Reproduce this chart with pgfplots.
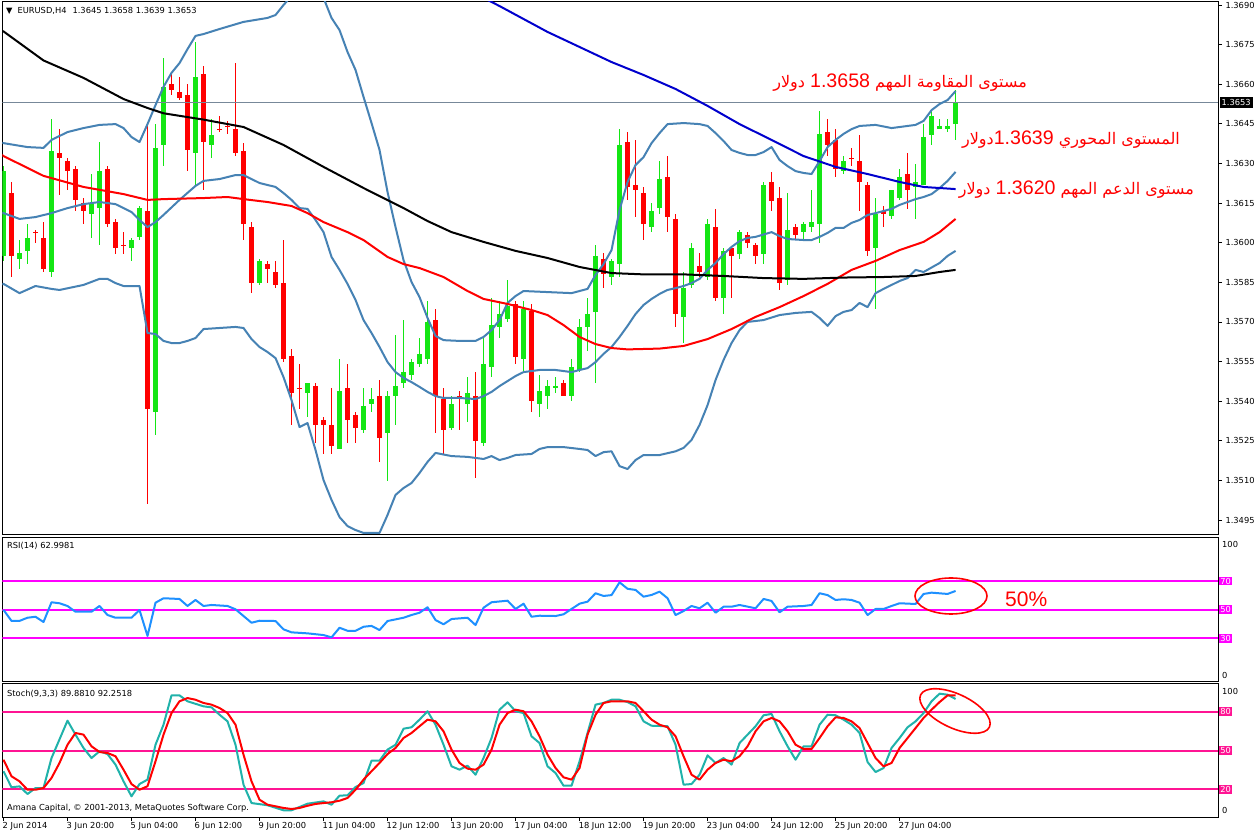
\documentclass[border=0pt]{standalone}
\usepackage{fontspec}
\usepackage{pgfplots}
\usepackage{pgfplotstable}
\pgfplotsset{compat=1.18}
\setmainfont{DejaVu Sans}
\newfontfamily\arabicfont[Script=Arabic]{DejaVu Sans}
\newfontfamily\arialfont{Liberation Sans}
\TeXXeTstate=1
\newcommand{\sm}{\fontsize{8.3}{10}\selectfont}
\definecolor{bull}{RGB}{20,230,20}
\definecolor{bear}{RGB}{255,0,0}
\definecolor{bband}{RGB}{70,130,180}
\definecolor{maT}{RGB}{0,0,205}
\definecolor{pline}{RGB}{119,136,153}
\definecolor{rsiline}{RGB}{30,144,255}
\definecolor{rsilevel}{RGB}{255,0,255}
\definecolor{stk}{RGB}{32,178,170}
\definecolor{stlevel}{RGB}{255,20,147}

\pgfplotstableread{
i o h l c
0 1.3595 1.3629 1.3593 1.3627
2 1.3594 1.3601 1.3590 1.3596
3 1.3597 1.3607 1.3592 1.3602
6 1.3589 1.3647 1.3587 1.3635
11 1.3611 1.3626 1.3602 1.3615
12 1.3613 1.3638 1.3599 1.3627
16 1.3598 1.3602 1.3593 1.3601
17 1.3602 1.3614 1.3601 1.3613
19 1.3536 1.3645 1.3527 1.3636
20 1.3637 1.3670 1.3629 1.3659
24 1.3634 1.3676 1.3621 1.3663
26 1.3637 1.3647 1.3632 1.3641
32 1.3585 1.3594 1.3584 1.3593
38 1.3543 1.3547 1.3534 1.3547
42 1.3522 1.3556 1.3522 1.3544
45 1.3529 1.3545 1.3528 1.3538
46 1.3539 1.3545 1.3536 1.3541
48 1.3528 1.3544 1.3510 1.3542
49 1.3542 1.3565 1.3531 1.3546
50 1.3547 1.3571 1.3545 1.3551
51 1.3550 1.3556 1.3548 1.3555
52 1.3554 1.3564 1.3553 1.3558
53 1.3556 1.3578 1.3554 1.3570
56 1.3530 1.3542 1.3529 1.3539
58 1.3539 1.3549 1.3532 1.3543
60 1.3524 1.3564 1.3523 1.3554
61 1.3553 1.3579 1.3549 1.3569
62 1.3568 1.3578 1.3564 1.3573
63 1.3571 1.3586 1.3570 1.3576
65 1.3556 1.3578 1.3551 1.3575
67 1.3539 1.3550 1.3534 1.3544
68 1.3542 1.3548 1.3537 1.3546
69 1.3545 1.3549 1.3543 1.3546
71 1.3542 1.3556 1.3540 1.3553
72 1.3552 1.3571 1.3551 1.3568
73 1.3568 1.3579 1.3559 1.3573
74 1.3574 1.3599 1.3547 1.3595
76 1.3587 1.3594 1.3584 1.3593
77 1.3592 1.3643 1.3587 1.3637
81 1.3606 1.3615 1.3604 1.3612
82 1.3613 1.3631 1.3611 1.3624
85 1.3572 1.3589 1.3562 1.3583
86 1.3584 1.3600 1.3583 1.3598
88 1.3587 1.3609 1.3586 1.3607
90 1.3579 1.3598 1.3573 1.3597
92 1.3596 1.3605 1.3594 1.3604
95 1.3596 1.3623 1.3592 1.3622
98 1.3586 1.3619 1.3584 1.3605
100 1.3604 1.3608 1.3601 1.3607
101 1.3606 1.3620 1.3604 1.3608
102 1.3607 1.3650 1.3600 1.3641
105 1.3627 1.3633 1.3626 1.3631
109 1.3598 1.3617 1.3575 1.3611
111 1.3610 1.3620 1.3609 1.3620
112 1.3617 1.3628 1.3616 1.3625
114 1.3621 1.3630 1.3609 1.3623
115 1.3622 1.3645 1.3622 1.3640
116 1.3641 1.3650 1.3637 1.3648
117 1.3643 1.3647 1.3643 1.3644
118 1.3643 1.3647 1.3642 1.3644
119 1.3645 1.3658 1.3639 1.3653
}\bulltab

\pgfplotstableread{
i o h l c
1 1.3619 1.3623 1.3587 1.3595
4 1.3604 1.3605 1.3600 1.3604
5 1.3602 1.3608 1.3589 1.3590
7 1.3634 1.3643 1.3618 1.3632
8 1.3631 1.3632 1.3620 1.3627
9 1.3628 1.3629 1.3612 1.3616
10 1.3615 1.3617 1.3607 1.3612
13 1.3628 1.3629 1.3606 1.3607
14 1.3608 1.3609 1.3596 1.3598
15 1.3599 1.3604 1.3596 1.3599
18 1.3612 1.3645 1.3501 1.3537
21 1.3660 1.3664 1.3656 1.3658
22 1.3657 1.3663 1.3654 1.3655
23 1.3656 1.3660 1.3627 1.3635
25 1.3664 1.3667 1.3620 1.3638
27 1.3643 1.3648 1.3642 1.3643
28 1.3644 1.3646 1.3641 1.3644
29 1.3643 1.3668 1.3633 1.3634
30 1.3635 1.3638 1.3601 1.3607
31 1.3606 1.3608 1.3581 1.3585
33 1.3592 1.3593 1.3585 1.3590
34 1.3589 1.3593 1.3583 1.3584
35 1.3585 1.3601 1.3555 1.3556
36 1.3557 1.3560 1.3531 1.3543
37 1.3545 1.3554 1.3537 1.3545
39 1.3546 1.3547 1.3524 1.3531
40 1.3533 1.3534 1.3520 1.3531
41 1.3531 1.3545 1.3520 1.3523
43 1.3545 1.3554 1.3524 1.3533
44 1.3535 1.3536 1.3524 1.3530
47 1.3542 1.3548 1.3517 1.3526
54 1.3571 1.3575 1.3528 1.3542
55 1.3541 1.3545 1.3520 1.3529
57 1.3542 1.3544 1.3529 1.3541
59 1.3542 1.3551 1.3511 1.3525
64 1.3577 1.3578 1.3554 1.3557
66 1.3574 1.3577 1.3536 1.3540
70 1.3547 1.3548 1.3542 1.3542
75 1.3594 1.3596 1.3583 1.3588
78 1.3638 1.3642 1.3616 1.3621
79 1.3622 1.3639 1.3610 1.3620
80 1.3619 1.3621 1.3601 1.3607
83 1.3625 1.3633 1.3604 1.3610
84 1.3609 1.3611 1.3568 1.3573
87 1.3591 1.3596 1.3587 1.3589
89 1.3606 1.3613 1.3578 1.3579
91 1.3598 1.3599 1.3579 1.3595
93 1.3603 1.3604 1.3598 1.3600
94 1.3599 1.3600 1.3592 1.3595
96 1.3623 1.3627 1.3612 1.3616
97 1.3617 1.3621 1.3582 1.3585
99 1.3606 1.3607 1.3601 1.3603
103 1.3642 1.3647 1.3633 1.3637
104 1.3639 1.3643 1.3625 1.3628
106 1.3632 1.3636 1.3629 1.3632
107 1.3631 1.3641 1.3612 1.3623
108 1.3622 1.3623 1.3595 1.3597
110 1.3612 1.3614 1.3606 1.3611
113 1.3626 1.3634 1.3613 1.3620
}\beartab

\pgfplotsset{
  panel/.style={scale only axis, width=1215.7pt, xmin=-0.15, xmax=151.8,
    axis line style={black, line width=1pt}, xtick=\empty, ytick=\empty,
    every tick/.style={black, line width=0.8pt}},
  wick/.style={draw=none, mark=none, error bars/.cd, y dir=both, y explicit,
    error mark=none, error bar style={draw=#1, line width=1pt}},
  body/.style={draw=none, mark=none, error bars/.cd, y dir=both, y explicit,
    error mark=none, error bar style={draw=#1, line width=5pt}},
  ind/.style={#1, line width=2pt, line join=round, mark=none},
}

\begin{document}
\begin{tikzpicture}
\fill[white] (0pt,0pt) rectangle (1258pt,835pt);
\path[use as bounding box] (0pt,0pt) rectangle (1258pt,835pt);

% ---------------- main price panel ----------------
\begin{axis}[panel, at={(2.3pt,300pt)}, anchor=south west, height=533pt,
  ymin=1.348932, ymax=1.369114,
  ytick={1.3495,1.3510,1.3525,1.3540,1.3555,1.3570,1.3585,1.3600,1.3615,1.3630,1.3645,1.3660,1.3675,1.3690},
  yticklabels={1.3495,1.3510,1.3525,1.3540,1.3555,1.3570,1.3585,1.3600,1.3615,1.3630,1.3645,1.3660,1.3675,1.3690},
  ytick pos=right, yticklabel pos=right, tick align=outside, major tick length=4pt,
  yticklabel style={font=\sm}]
\addplot[wick=bull] table[x=i, y expr={(\thisrow{h}+\thisrow{l})/2}, y error expr={(\thisrow{h}-\thisrow{l})/2}] {\bulltab};
\addplot[wick=bear] table[x=i, y expr={(\thisrow{h}+\thisrow{l})/2}, y error expr={(\thisrow{h}-\thisrow{l})/2}] {\beartab};
\addplot[body=bull] table[x=i, y expr={(\thisrow{o}+\thisrow{c})/2}, y error expr={max(abs(\thisrow{o}-\thisrow{c})/2,0.00002)}] {\bulltab};
\addplot[body=bear] table[x=i, y expr={(\thisrow{o}+\thisrow{c})/2}, y error expr={max(abs(\thisrow{o}-\thisrow{c})/2,0.00002)}] {\beartab};
% price line
\addplot[pline, line width=0.8pt] coordinates {(-0.15,1.3653) (151.8,1.3653)};
% Bollinger upper
\addplot[ind=bband] coordinates {(-0.5,1.3638) (0,1.36377) (3,1.36362) (5,1.36359) (6,1.36389) (8,1.36419) (10,1.36434) (12,1.36446) (14,1.36449) (15,1.36434) (16,1.36400) (17,1.36381) (18,1.36449) (19,1.36521) (20,1.36590) (21,1.36643) (22,1.36680) (23,1.36733) (24,1.36783) (25,1.3679) (27,1.36809) (30,1.36836) (33,1.36851) (34,1.36862) (35,1.3690) (36,1.36934) (38,1.36964) (40,1.36927) (41,1.36851) (42,1.36805) (43,1.36722) (44,1.36654) (45,1.36552) (46,1.36453) (47,1.36351) (48,1.36192) (49,1.36059) (50,1.35934) (51,1.35851) (52,1.35794) (53,1.35715) (54,1.35647) (55,1.35631) (57,1.35628) (59,1.35628) (60,1.35643) (61,1.35669) (62,1.35707) (63,1.35772) (64,1.35798) (65,1.35817) (68,1.35813) (71,1.35809) (73,1.35825) (74,1.35878) (75,1.35919) (76,1.35972) (77,1.36124) (78,1.3623) (79,1.36294) (80,1.36324) (81,1.36377) (82,1.36415) (83,1.36449) (85,1.36453) (87,1.36449) (88,1.36442) (89,1.36415) (90,1.36385) (91,1.36351) (92,1.3634) (93,1.36332) (94,1.36332) (95,1.36343) (96,1.36362) (97,1.36313) (98,1.3629) (99,1.36271) (100,1.36264) (101,1.3626) (102,1.36309) (103,1.36362) (104,1.36389) (105,1.36412) (106,1.3643) (107,1.36442) (109,1.36446) (111,1.36434) (113,1.36442) (114,1.36446) (115,1.36461) (116,1.36502) (117,1.36525) (118,1.3654) (119,1.36574)};
% Bollinger middle
\addplot[ind=bband] coordinates {(-0.5,1.3611) (0,1.36112) (2,1.3609) (4,1.36097) (6,1.36112) (8,1.36131) (10,1.36146) (12,1.36154) (14,1.36146) (16,1.36116) (17,1.36086) (18,1.36059) (19,1.36078) (20,1.36105) (22,1.36162) (24,1.36215) (25,1.36234) (27,1.36241) (29,1.36256) (30,1.36256) (32,1.36226) (34,1.36211) (35,1.36188) (36,1.36162) (37,1.36131) (38,1.36128) (39,1.36086) (40,1.3604) (41,1.35946) (42,1.35897) (43,1.35844) (44,1.35783) (45,1.35707) (46,1.35658) (47,1.35605) (48,1.35548) (49,1.3551) (50,1.35488) (51,1.35472) (52,1.35454) (53,1.35435) (54,1.35419) (55,1.35412) (57,1.35412) (59,1.35408) (60,1.35419) (61,1.35435) (62,1.35457) (63,1.35476) (64,1.35495) (65,1.3551) (67,1.35518) (69,1.35518) (71,1.3551) (72,1.35518) (73,1.35525) (74,1.35548) (75,1.35579) (76,1.35605) (77,1.35643) (78,1.35685) (79,1.3573) (80,1.35764) (81,1.35787) (82,1.35806) (83,1.35821) (84,1.35828) (85,1.35836) (86,1.35847) (87,1.35863) (88,1.35897) (89,1.35923) (90,1.35957) (91,1.35984) (92,1.36006) (93,1.36018) (94,1.36022) (96,1.3604) (97,1.36025) (98,1.36014) (100,1.3601) (101,1.3601) (102,1.36022) (103,1.36037) (104,1.36056) (105,1.36056) (106,1.36075) (107,1.36086) (108,1.36105) (109,1.36112) (110,1.3612) (111,1.36128) (112,1.36143) (113,1.36154) (114,1.36165) (115,1.36173) (116,1.36184) (117,1.36207) (118,1.36234) (119,1.36268)};
% Bollinger lower
\addplot[ind=bband] coordinates {(-0.5,1.3584) (0,1.35844) (2,1.35809) (4,1.35836) (6,1.35825) (7,1.35821) (10,1.3584) (12,1.35863) (13,1.35863) (14,1.35847) (15,1.35836) (17,1.35836) (18,1.35658) (19,1.35654) (20,1.35628) (21,1.3562) (22,1.3562) (23,1.35628) (24,1.35639) (25,1.35673) (27,1.35677) (29,1.35681) (30,1.35677) (31,1.35635) (32,1.35605) (33,1.35586) (34,1.35563) (35,1.35491) (36,1.35404) (37,1.35302) (38,1.35317) (39,1.35215) (40,1.35101) (41,1.35026) (42,1.34961) (43,1.34927) (44,1.34912) (45,1.34901) (47,1.34901) (48,1.34969) (49,1.35045) (50,1.35071) (51,1.3509) (52,1.35128) (53,1.3517) (54,1.35204) (56,1.35192) (58,1.35189) (60,1.35181) (61,1.35192) (62,1.35177) (63,1.35185) (64,1.35196) (66,1.352) (67,1.35219) (68,1.35226) (70,1.35226) (72,1.35219) (73,1.35215) (74,1.35192) (75,1.35207) (76,1.3521) (77,1.35154) (78,1.35143) (79,1.35177) (80,1.35196) (82,1.35196) (84,1.3521) (85,1.35223) (86,1.35253) (87,1.3531) (88,1.35385) (89,1.3548) (90,1.35556) (91,1.3562) (92,1.35669) (93,1.357) (95,1.35707) (97,1.35726) (99,1.35734) (101,1.35738) (102,1.35715) (103,1.35685) (104,1.35722) (105,1.35738) (106,1.35745) (107,1.35772) (108,1.35756) (109,1.35809) (110,1.35825) (111,1.3584) (112,1.35855) (113,1.35866) (114,1.35897) (115,1.35889) (117,1.35923) (118,1.3595) (119,1.35969)};
% red MA
\addplot[ind=red] coordinates {(-0.5,1.3634) (0,1.36328) (5,1.36253) (10,1.36211) (15,1.36184) (18,1.36162) (20,1.36165) (25,1.36169) (28,1.36173) (30,1.36165) (33,1.36154) (36,1.36139) (38,1.36112) (40,1.36078) (43,1.3604) (45,1.3601) (48,1.35946) (50,1.35919) (52,1.35904) (55,1.3587) (58,1.35817) (60,1.35787) (63,1.35768) (66,1.35745) (68,1.35726) (70,1.35688) (72,1.35643) (74,1.35616) (76,1.35601) (78,1.35596) (82,1.35599) (85,1.35609) (88,1.35635) (91,1.35673) (94,1.35719) (97,1.35756) (100,1.35798) (103,1.35844) (106,1.35897) (109,1.35931) (112,1.35972) (115,1.36003) (117,1.3604) (119,1.3609)};
% black MA
\addplot[ind=black] coordinates {(-0.5,1.36805) (0,1.3680) (5,1.3669) (10,1.36624) (15,1.36544) (18,1.3651) (20,1.3649) (25,1.36466) (30,1.36438) (35,1.3637) (40,1.36287) (45,1.36207) (50,1.36131) (53,1.36082) (56,1.3604) (60,1.36003) (64,1.35969) (68,1.35942) (72,1.35908) (76,1.35885) (80,1.3588) (85,1.3588) (90,1.35874) (95,1.35866) (100,1.35863) (105,1.35868) (110,1.3587) (114,1.35874) (117,1.35889) (119,1.35897)};
% blue MA
\addplot[ind=maT] coordinates {(55,1.3701) (60,1.36927) (62,1.36896) (65,1.36847) (68,1.36798) (72,1.36741) (76,1.36684) (80,1.36635) (84,1.36582) (88,1.36518) (92,1.36449) (96,1.36389) (100,1.36328) (104,1.36287) (108,1.3626) (112,1.3623) (115,1.36211) (119,1.36203)};
\end{axis}

% ---------------- RSI panel ----------------
\begin{axis}[panel, at={(2.3pt,153pt)}, anchor=south west, height=144.7pt,
  ymin=-0.56, ymax=100.45]
\addplot[rsilevel, line width=2pt] coordinates {(-0.15,70) (151.8,70)};
\addplot[rsilevel, line width=2pt] coordinates {(-0.15,50) (151.8,50)};
\addplot[rsilevel, line width=2pt] coordinates {(-0.15,30) (151.8,30)};
\addplot[ind=rsiline] coordinates {(0,49.8) (1,42.1) (2,42.1) (3,44.3) (4,45.0) (5,41.3) (6,55.1) (7,54.4) (8,52.5) (9,48.5) (11,48.5) (12,52.5) (13,46.2) (14,44.3) (16,44.3) (17,49.7) (18,31.6) (19,54.8) (20,57.9) (22,57.4) (23,52.5) (24,56.7) (25,52.5) (26,53.2) (28,52.5) (29,50.2) (30,45.5) (31,40.8) (32,42.2) (34,42.0) (35,36.2) (36,34.1) (38,33.4) (40,32.2) (41,30.6) (42,37.3) (43,35.2) (44,35.2) (45,38.0) (46,38.6) (47,35.7) (48,42.0) (50,44.3) (51,46.2) (52,47.8) (53,51.6) (54,42.7) (55,39.7) (56,43.4) (58,44.3) (59,39.2) (60,51.3) (61,55.1) (63,56.2) (64,50.4) (65,54.1) (66,45.0) (67,45.7) (69,45.5) (70,46.7) (72,54.1) (73,55.5) (74,61.4) (75,59.5) (76,60.1) (77,69.0) (78,64.5) (79,63.7) (80,59.0) (81,60.2) (82,62.5) (83,57.9) (84,46.2) (85,49.0) (86,52.5) (87,50.9) (88,54.8) (89,47.8) (90,52.0) (91,52.0) (92,53.2) (94,50.9) (95,57.4) (96,56.0) (97,48.1) (98,52.0) (100,52.5) (101,53.2) (102,61.4) (103,60.1) (104,56.7) (105,57.2) (106,56.7) (107,54.8) (108,46.2) (109,50.4) (110,50.4) (111,52.5) (112,54.4) (114,53.9) (115,60.9) (116,61.8) (118,60.9) (119,63.0)};
\end{axis}

% ---------------- Stochastic panel ----------------
\begin{axis}[panel, at={(2.3pt,18pt)}, anchor=south west, height=133pt,
  ymin=-1.39, ymax=101.47,
  xtick={0,8,16,24,32,40,48,56,64,72,80,88,96,104,112},
  xticklabels={2 Jun 2014,3 Jun 20:00,5 Jun 04:00,6 Jun 12:00,9 Jun 20:00,11 Jun 04:00,12 Jun 12:00,13 Jun 20:00,17 Jun 04:00,18 Jun 12:00,19 Jun 20:00,23 Jun 04:00,24 Jun 12:00,25 Jun 20:00,27 Jun 04:00},
  xtick pos=bottom, tick align=outside, major tick length=4pt,
  xticklabel style={font=\sm, anchor=north west, inner sep=0pt, xshift=-1pt, yshift=-1pt}]
\addplot[stlevel, line width=2pt] coordinates {(-0.15,80) (151.8,80)};
\addplot[stlevel, line width=2pt] coordinates {(-0.15,50) (151.8,50)};
\addplot[stlevel, line width=2pt] coordinates {(-0.15,20) (151.8,20)};
\addplot[ind=stk] coordinates {(0,34.0) (1,21.6) (2,22.3) (3,16.4) (4,21.0) (5,21.0) (6,44.2) (8,73.1) (9,62.3) (10,52.0) (11,44.2) (12,49.4) (13,47.3) (14,39.1) (15,26.2) (16,14.6) (17,24.1) (18,27.5) (19,54.5) (20,70.0) (21,92.7) (22,92.7) (23,88.1) (25,84.2) (26,83.4) (27,77.7) (28,72.6) (29,54.5) (30,23.6) (31,9.4) (33,7.7) (35,3.8) (36,3.8) (38,8.9) (40,10.7) (41,8.1) (42,15.1) (43,15.4) (44,21.8) (45,24.9) (46,42.2) (47,42.2) (48,50.7) (49,54.5) (50,66.9) (51,68.0) (52,73.9) (53,80.4) (54,70.0) (55,54.5) (56,37.8) (57,35.2) (58,38.3) (59,31.3) (60,44.2) (61,59.7) (62,81.6) (63,87.3) (64,80.4) (65,79.0) (66,61.0) (67,55.8) (68,37.8) (69,32.6) (70,22.8) (71,22.8) (72,41.7) (73,63.6) (74,85.5) (75,86.8) (76,89.3) (77,89.3) (78,87.5) (79,84.2) (80,72.6) (81,69.2) (83,68.8) (84,54.5) (85,23.6) (86,24.1) (87,31.3) (88,46.3) (89,40.4) (90,44.2) (91,39.1) (92,55.8) (93,62.3) (94,68.8) (95,77.3) (96,78.3) (97,64.9) (98,53.3) (99,42.9) (100,53.3) (101,53.3) (102,70.0) (103,77.7) (104,77.3) (105,73.9) (106,70.0) (107,63.6) (108,41.1) (109,33.4) (110,36.5) (111,52.0) (112,59.7) (113,68.0) (114,72.6) (115,79.0) (116,88.1) (117,94.0) (118,93.2) (119,89.9)};
\addplot[ind=red] coordinates {(0,42.9) (1,30.1) (2,26.2) (3,19.7) (4,19.7) (5,21.0) (6,28.8) (7,40.4) (8,54.5) (9,63.6) (10,62.3) (11,53.3) (12,48.9) (13,48.1) (14,45.6) (15,35.2) (16,24.1) (17,19.7) (18,22.4) (19,41.7) (20,62.3) (21,79.0) (22,88.1) (23,90.6) (24,89.3) (25,86.8) (26,85.5) (27,82.9) (28,79.0) (29,70.0) (30,46.8) (31,26.2) (32,12.0) (33,8.1) (34,6.9) (35,5.6) (36,4.8) (37,5.6) (38,7.3) (39,8.7) (40,9.4) (41,10.0) (42,11.2) (43,13.3) (44,19.7) (45,27.5) (46,34.0) (47,40.4) (48,47.3) (49,52.0) (50,59.7) (51,63.6) (52,68.8) (53,73.9) (54,72.6) (55,64.9) (56,50.7) (57,40.4) (58,36.0) (59,35.2) (60,39.1) (61,50.7) (62,70.0) (63,79.0) (64,81.6) (65,80.4) (66,72.6) (67,61.0) (68,46.8) (69,36.5) (70,29.3) (71,27.5) (72,36.5) (73,62.3) (74,77.7) (75,86.8) (76,88.1) (78,88.1) (79,86.8) (80,80.4) (81,73.9) (82,70.0) (83,68.0) (84,61.0) (85,45.6) (86,31.3) (87,27.5) (88,35.2) (89,40.4) (90,42.9) (91,41.7) (92,45.6) (93,53.3) (94,64.9) (95,72.6) (96,75.2) (97,72.6) (98,64.9) (99,54.5) (100,51.2) (101,51.2) (102,59.7) (103,68.8) (104,75.7) (105,75.2) (106,72.6) (107,67.4) (108,55.8) (109,44.2) (110,37.8) (111,40.4) (112,52.0) (113,59.7) (114,67.4) (115,75.2) (116,81.6) (117,87.5) (118,92.7) (119,92.7)};
\end{axis}

% ---------------- texts ----------------
\node[anchor=west, inner sep=0pt] at (6pt,824pt) {\sm ▼\hspace{5pt}EURUSD,H4\hspace{6pt}1.3645 1.3658 1.3639 1.3653};
\node[anchor=west, inner sep=2pt, fill=black, text=white] at (1219.5pt,732.5pt) {\sm 1.3653};
\node[anchor=west, inner sep=0pt] at (7pt,289pt) {\sm RSI(14) 62.9981};
\node[anchor=west, inner sep=0pt] at (7pt,141pt) {\sm Stoch(9,3,3) 89.8810 92.2518};
\node[anchor=west, inner sep=0pt] at (7pt,27pt) {\sm Amana Capital, © 2001-2013, MetaQuotes Software Corp.};
% RSI right labels
\node[anchor=west, inner sep=0pt] at (1222pt,291pt) {\sm 100};
\node[anchor=west, inner sep=0pt] at (1222pt,160pt) {\sm 0};
\node[anchor=west, inner sep=1.2pt, fill=rsilevel, text=white] at (1219pt,254pt) {\sm 70};
\node[anchor=west, inner sep=1.2pt, fill=rsilevel, text=white] at (1219pt,225.3pt) {\sm 50};
\node[anchor=west, inner sep=1.2pt, fill=rsilevel, text=white] at (1219pt,196.7pt) {\sm 30};
% Stoch right labels
\node[anchor=west, inner sep=0pt] at (1222pt,144pt) {\sm 100};
\node[anchor=west, inner sep=0pt] at (1222pt,24.3pt) {\sm 0};
\node[anchor=west, inner sep=1.2pt, fill=stlevel, text=white] at (1219pt,123.3pt) {\sm 80};
\node[anchor=west, inner sep=1.2pt, fill=stlevel, text=white] at (1219pt,84.7pt) {\sm 50};
\node[anchor=west, inner sep=1.2pt, fill=stlevel, text=white] at (1219pt,45.7pt) {\sm 20};
% Arabic annotations
\node[anchor=base east, inner sep=0pt, text=red] at (1027pt,747pt) {\arabicfont\fontsize{16}{20}\selectfont\beginR مستوى المقاومة المهم \beginL{\arialfont\fontsize{19.6}{20}\selectfont 1.3658}\endL{} دولار\endR};
\node[anchor=base east, inner sep=0pt, text=red] at (1180pt,690pt) {\arabicfont\fontsize{16}{20}\selectfont\beginR المستوى المحوري \beginL{\arialfont\fontsize{19.6}{20}\selectfont 1.3639}\endL{}دولار\endR};
\node[anchor=base east, inner sep=0pt, text=red] at (1194pt,640pt) {\arabicfont\fontsize{16}{20}\selectfont\beginR مستوى الدعم المهم \beginL{\arialfont\fontsize{19.6}{20}\selectfont 1.3620}\endL{} دولار\endR};
\node[anchor=base west, inner sep=0pt, text=red] at (1005pt,228pt) {\arialfont\fontsize{21}{22}\selectfont 50\%};
% ellipses
\draw[red, line width=1.6pt] (951pt,239pt) ellipse [x radius=36pt, y radius=18pt];
\draw[red, line width=1.6pt, rotate around={-25:(955pt,124pt)}] (955pt,124pt) ellipse [x radius=38pt, y radius=17pt];
\end{tikzpicture}
\end{document}
